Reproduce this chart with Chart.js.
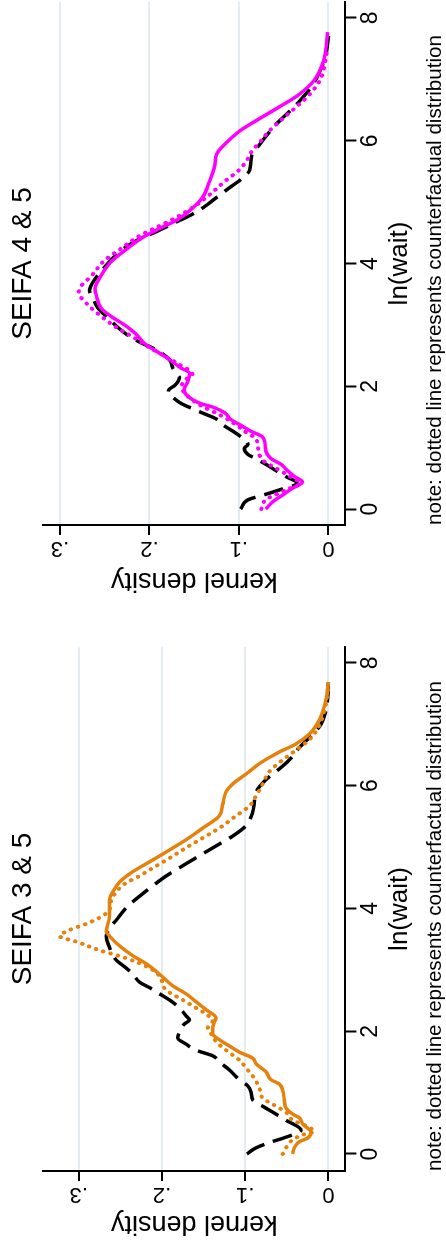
<!DOCTYPE html>
<html>
<head>
<meta charset="utf-8">
<script src="https://cdn.jsdelivr.net/npm/chart.js@4.4.1/dist/chart.umd.min.js"></script>
<style>
  body { margin: 0; background: #fff; }
  #page { position: relative; width: 446px; height: 1247px; overflow: hidden; }
  .panel { position: absolute; left: 0; height: 446px; transform-origin: 0 0; transform: rotate(-90deg); }
  .panel canvas { display: block; }
</style>
</head>
<body>
<div id="page">
  <div class="panel" style="top:623px;width:623px"><canvas id="c45" width="623" height="446"></canvas></div>
  <div class="panel" style="top:1247px;width:624px"><canvas id="c35" width="624" height="446"></canvas></div>
</div>
<script>
// ticks
const lnTicks = [0, 2, 4, 6, 8];
const lnLabels = ["0", "2", "4", "6", "8"];
const densTicks = [0, 0.1, 0.2, 0.3];
const densLabels = ["0", ".1", ".2", ".3"];
const noteText = "note: dotted line represents counterfactual distribution";

// SEIFA 4 & 5  [ln(wait), density]
const s45Ref = [[0,.098],[0.15,.09],[0.24,.07],[0.31,.055],[0.42,.035],[0.53,.0475],[0.63,.059],[0.73,.07],
  [0.82,.081],[0.89,.09],[0.99,.094],[1.05,.09],[1.11,.092],[1.18,.098],[1.27,.107],[1.37,.118],[1.47,.1255],
  [1.56,.14],[1.63,.151],[1.72,.1645],[1.82,.174],[1.89,.179],[1.95,.178],[2.01,.172],[2.14,.1665],[2.21,.17],
  [2.3,.174],[2.43,.1775],[2.59,.192],[2.72,.211],[2.85,.226],[2.98,.237],[3.14,.248],[3.27,.2575],[3.43,.263],
  [3.56,.267],[3.69,.2635],[3.85,.2555],[4.04,.244],[4.23,.23],[4.4,.211],[4.52,.192],[4.65,.174],[4.78,.155],
  [4.91,.14],[5.07,.1255],[5.23,.111],[5.39,.096],[5.52,.088],[5.69,.0865],[5.81,.0845],[5.9,.079],[6.07,.07],
  [6.26,.059],[6.45,.0455],[6.64,.0325],[6.87,.0195],[7.1,.0105],[7.39,.003],[7.71,0]];
const s45Group = [[0,.07],[0.12,.062],[0.24,.05],[0.34,.04],[0.44,.029],[0.53,.038],[0.63,.046],[0.73,.053],
  [0.82,.064],[0.95,.07],[1.08,.071],[1.18,.074],[1.27,.087],[1.34,.095],[1.47,.11],[1.56,.115],[1.66,.129],
  [1.72,.143],[1.85,.158],[1.95,.161],[2.08,.157],[2.21,.155],[2.3,.165],[2.46,.18],[2.56,.191],[2.69,.205],
  [2.85,.215],[2.98,.226],[3.14,.243],[3.27,.254],[3.46,.259],[3.59,.261],[3.78,.255],[4.01,.244],[4.23,.226],
  [4.43,.207],[4.56,.19],[4.72,.168],[4.85,.156],[5.07,.141],[5.33,.133],[5.59,.127],[5.78,.125],[5.97,.114],
  [6.16,.099],[6.36,.077],[6.55,.055],[6.74,.034],[7.0,.015],[7.32,.005],[7.77,.001]];
const s45Counter = [[0,.075],[0.15,.07],[0.31,.0475],[0.42,.032],[0.53,.043],[0.66,.058],[0.79,.073],[1.02,.079],
  [1.15,.081],[1.24,.091],[1.4,.106],[1.53,.121],[1.69,.143],[1.85,.158],[1.98,.164],[2.08,.162],[2.2,.152],
  [2.34,.165],[2.5,.184],[2.63,.2],[2.79,.217],[2.95,.236],[3.14,.254],[3.33,.269],[3.53,.279],[3.66,.275],
  [3.78,.266],[4.04,.251],[4.23,.233],[4.46,.21],[4.59,.192],[4.75,.17],[4.91,.152],[5.07,.137],[5.36,.114],
  [5.52,.1],[5.71,.09],[5.84,.085],[5.97,.077],[6.16,.066],[6.36,.051],[6.55,.036],[6.74,.022],[7.0,.009],[7.5,.001]];

// SEIFA 3 & 5
const s35Ref = [[0,.098],[0.1,.087],[0.2,.068],[0.26,.054],[0.39,.033],[0.55,.051],[0.65,.063],[0.77,.078],
  [0.88,.091],[1.01,.093],[1.11,.097],[1.21,.107],[1.37,.119],[1.5,.131],[1.6,.139],[1.69,.159],[1.79,.171],
  [1.89,.181],[1.99,.179],[2.12,.173],[2.18,.167],[2.25,.171],[2.38,.179],[2.51,.191],[2.61,.203],[2.71,.215],
  [2.8,.227],[2.93,.235],[3.03,.243],[3.16,.255],[3.36,.263],[3.55,.267],[3.68,.263],[3.81,.255],[4.01,.243],
  [4.2,.227],[4.37,.211],[4.53,.195],[4.73,.171],[4.86,.155],[5.02,.135],[5.18,.115],[5.35,.099],[5.57,.091],
  [5.74,.089],[5.9,.087],[6.1,.075],[6.23,.063],[6.42,.047],[6.62,.035],[6.81,.021],[7.0,.009],[7.4,.001],[7.72,0]];
const s35Group = [[0,.043],[0.1,.041],[0.2,.035],[0.26,.025],[0.36,.021],[0.42,.025],[0.49,.031],[0.59,.035],
  [0.65,.043],[0.75,.051],[0.88,.053],[1.04,.055],[1.14,.059],[1.21,.069],[1.34,.075],[1.47,.087],[1.56,.091],
  [1.66,.107],[1.76,.119],[1.86,.131],[1.96,.139],[2.05,.139],[2.15,.137],[2.22,.135],[2.35,.147],[2.48,.159],
  [2.61,.171],[2.74,.187],[2.93,.203],[3.1,.219],[3.23,.235],[3.39,.251],[3.55,.263],[3.62,.267],[3.88,.263],
  [4.14,.263],[4.27,.259],[4.43,.251],[4.6,.235],[4.76,.215],[4.92,.195],[5.12,.171],[5.31,.151],[5.51,.131],
  [5.7,.127],[5.9,.123],[6.03,.115],[6.19,.099],[6.36,.083],[6.55,.059],[6.68,.039],[6.84,.023],[7.07,.011],
  [7.4,.003],[7.69,0]];
const s35Counter = [[0,.055],[0.1,.051],[0.23,.043],[0.33,.027],[0.36,.017],[0.46,.027],[0.55,.043],[0.68,.051],
  [0.81,.067],[0.91,.079],[1.08,.083],[1.27,.091],[1.4,.099],[1.53,.107],[1.69,.123],[1.83,.135],[1.92,.139],
  [2.05,.145],[2.18,.139],[2.28,.147],[2.38,.159],[2.51,.175],[2.67,.195],[2.9,.203],[3.03,.215],[3.19,.243],
  [3.32,.275],[3.46,.303],[3.55,.323],[3.65,.311],[3.75,.291],[3.85,.275],[3.98,.263],[4.14,.261],[4.27,.255],
  [4.4,.245],[4.53,.227],[4.66,.211],[4.82,.191],[4.99,.171],[5.15,.151],[5.31,.131],[5.51,.111],[5.67,.095],
  [5.83,.087],[6.03,.079],[6.23,.071],[6.42,.055],[6.58,.039],[6.75,.023],[6.98,.011],[7.33,.003],[7.66,0]];

const FONT = "'Liberation Sans', Arial, Helvetica, sans-serif";
const GRID = "#E3EDF1";
Chart.defaults.font.family = FONT;
Chart.defaults.color = "#000";

const pts = arr => arr.map(([x, y]) => ({x, y}));

function panel(id, cfg) {
  const line = (data, color, dash, cap) => ({
    data: pts(data), borderColor: color, borderWidth: cap === "round" ? 4 : 3.5,
    borderDash: dash, borderCapStyle: cap, pointRadius: 0,
    cubicInterpolationMode: "monotone", fill: false,
  });
  return new Chart(document.getElementById(id), {
    type: "line",
    data: {
      datasets: [
        line(cfg.group, cfg.color, [], "butt"),
        line(cfg.counter, cfg.color, [0.5, 7], "round"),
        line(cfg.ref, "#000", [20, 9], "butt"),
      ]
    },
    options: {
      responsive: false,
      animation: false,
      devicePixelRatio: 1,
      layout: { padding: { left: 0, right: cfg.rightPad, top: 0, bottom: 0 } },
      plugins: {
        legend: { display: false },
        tooltip: { enabled: false },
        title: {
          display: true, text: cfg.title, fullSize: false, color: "#000",
          font: { size: 28, weight: "normal" }, padding: { top: 6.2, bottom: 3.2 },
        },
        subtitle: {
          display: true, text: noteText, position: "bottom", align: "start", fullSize: false,
          color: "#000", font: { size: 20.6, lineHeight: 1 }, padding: { top: 0, bottom: 0 },
        },
      },
      scales: {
        x: {
          type: "linear", min: cfg.xMin, max: 8.26,
          afterBuildTicks: s => { s.ticks = lnTicks.map(v => ({value: v})); },
          afterFit: s => { s.height = 80; },
          border: { color: "#000", width: 2 },
          grid: { drawOnChartArea: false, drawTicks: true, tickLength: 11, tickColor: "#000", tickWidth: 2 },
          ticks: { color: "#000", font: { size: 23 }, padding: 0, maxRotation: 0,
            callback: (v, i) => lnLabels[i] },
          title: { display: true, text: "ln(wait)", color: "#000", font: { size: 26 },
            padding: { top: 0, bottom: 10.4 } },
        },
        y: {
          min: cfg.yMin, max: cfg.yMax,
          afterBuildTicks: s => { s.ticks = densTicks.map(v => ({value: v})); },
          afterFit: s => { s.width = cfg.yAxisW; },
          border: { color: "#000", width: 2 },
          grid: { color: GRID, lineWidth: 2, tickColor: "#000", tickWidth: 2, tickLength: 10 },
          ticks: { color: "#000", font: { size: 22 }, minRotation: 90, maxRotation: 90,
            crossAlign: "center", padding: 4, callback: (v, i) => densLabels[i] },
          title: { display: true, text: "kernel density", color: "#000", font: { size: 27 },
            padding: { top: cfg.yTitlePad, bottom: 0 } },
        },
      },
    },
  });
}

panel("c45", { title: "SEIFA 4 & 5", color: "#FF00FF", ref: s45Ref, group: s45Group, counter: s45Counter,
  xMin: -0.26, yMin: -0.019, yMax: 0.319, yAxisW: 98, rightPad: 2, yTitlePad: 26.8 });
panel("c35", { title: "SEIFA 3 & 5", color: "#E5820E", ref: s35Ref, group: s35Group, counter: s35Counter,
  xMin: -0.277, yMin: -0.0204, yMax: 0.343, yAxisW: 76, rightPad: 24, yTitlePad: 7.8 });
</script>
</body>
</html>
